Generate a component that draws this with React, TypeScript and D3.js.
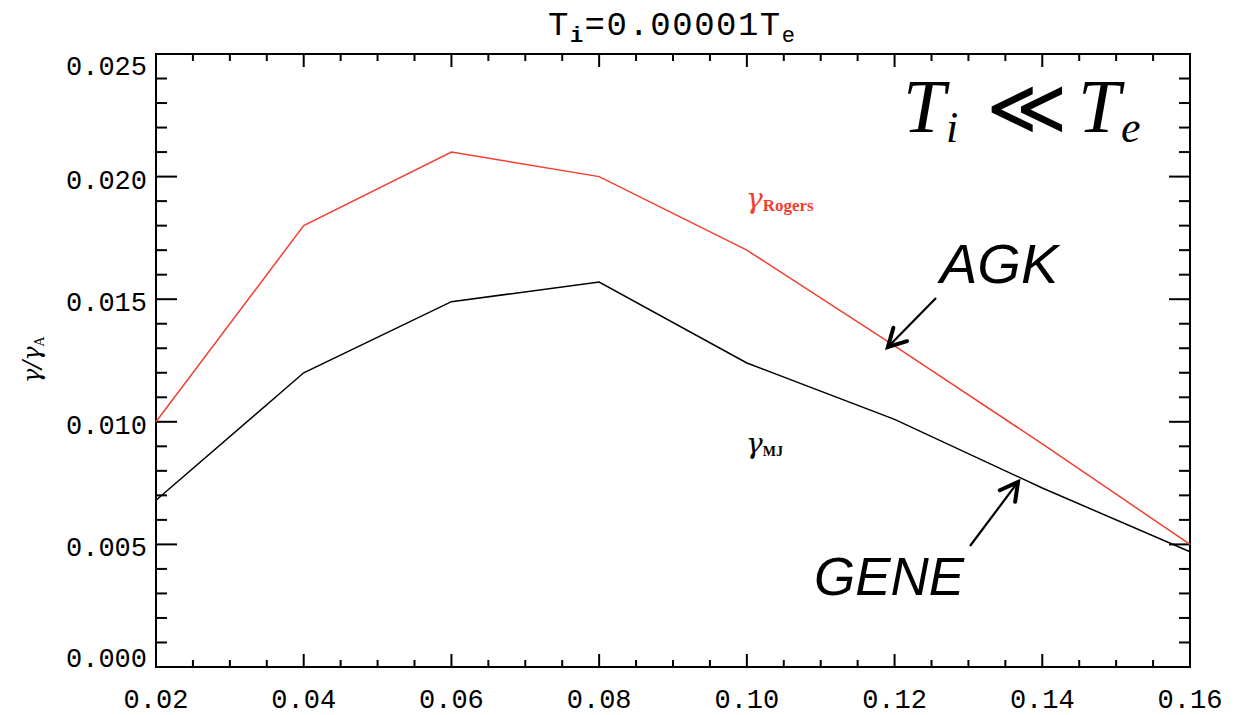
import React from "react";
import * as d3 from "d3";

// Wavenumber grid and growth rates (normalised)
const kValues = [0.02, 0.04, 0.06, 0.08, 0.1, 0.12, 0.14, 0.16];
const gammaRogers = [0.01, 0.018, 0.021, 0.02, 0.017, 0.0131, 0.0091, 0.005];
const gammaMJ = [0.0068, 0.012, 0.0149, 0.0157, 0.0124, 0.0101, 0.0073, 0.0047];

const xTicks = [0.02, 0.04, 0.06, 0.08, 0.1, 0.12, 0.14, 0.16];
const xTickLabels = ["0.02", "0.04", "0.06", "0.08", "0.10", "0.12", "0.14", "0.16"];
const yTicks = [0, 0.005, 0.01, 0.015, 0.02, 0.025];
const yTickLabels = ["0.000", "0.005", "0.010", "0.015", "0.020", "0.025"];

const W = 1245;
const H = 715;
const L = 156, R = 1190, T = 54, B = 667;
const RED = "#f0402f";
const MONO = "'Liberation Mono', 'DejaVu Sans Mono', monospace";

export default function App() {
  const x = d3.scaleLinear().domain([0.02, 0.16]).range([L, R]);
  const y = d3.scaleLinear().domain([0, 0.025]).range([B, T]);

  const line = d3
    .line<number>()
    .x((_, i) => x(kValues[i]))
    .y((d) => y(d));

  const xMinor = d3.range(0.02, 0.16 + 1e-9, 0.005).filter(
    (v) => !xTicks.some((t) => Math.abs(t - v) < 1e-9)
  );
  const yMinor = d3.range(0, 0.025 + 1e-9, 0.001).filter(
    (v) => !yTicks.some((t) => Math.abs(t - v) < 1e-9)
  );

  const arrow = (x1: number, y1: number, x2: number, y2: number) => {
    const a = Math.atan2(y2 - y1, x2 - x1);
    const len = 20;
    const spread = 0.5;
    const p1 = [x2 - len * Math.cos(a - spread), y2 - len * Math.sin(a - spread)];
    const p2 = [x2 - len * Math.cos(a + spread), y2 - len * Math.sin(a + spread)];
    return (
      <g>
        <line x1={x1} y1={y1} x2={x2} y2={y2} stroke="#000" strokeWidth={2.2} />
        <path
          d={`M${p1[0]},${p1[1]}L${x2},${y2}L${p2[0]},${p2[1]}`}
          fill="none"
          stroke="#000"
          strokeWidth={4}
          strokeLinecap="round"
          strokeLinejoin="miter"
        />
      </g>
    );
  };

  return (
    <svg
      width={W}
      height={H}
      style={{ position: "absolute", left: 0, top: 0, background: "#fff" }}
    >
      {/* Title */}
      <text x={548} y={35} fontFamily={MONO} fontSize={34} letterSpacing={1.5} fill="#000">
        T
        <tspan fontSize={22} dy={7} fontWeight="bold">i</tspan>
        <tspan dy={-7}>=0.00001T</tspan>
        <tspan fontSize={22} dy={7}>e</tspan>
      </text>

      {/* Frame */}
      <rect x={L} y={T} width={R - L} height={B - T} fill="none" stroke="#000" strokeWidth={2} />

      {/* X ticks bottom & top */}
      {xTicks.map((v) => (
        <g key={"xt" + v}>
          <line x1={x(v)} x2={x(v)} y1={B} y2={B - 13} stroke="#000" strokeWidth={2} />
          <line x1={x(v)} x2={x(v)} y1={T} y2={T + 13} stroke="#000" strokeWidth={2} />
        </g>
      ))}
      {xMinor.map((v) => (
        <g key={"xm" + v}>
          <line x1={x(v)} x2={x(v)} y1={B} y2={B - 7} stroke="#000" strokeWidth={2} />
          <line x1={x(v)} x2={x(v)} y1={T} y2={T + 7} stroke="#000" strokeWidth={2} />
        </g>
      ))}
      {xTicks.map((v, i) => (
        <text
          key={"xl" + v}
          x={x(v)}
          y={708}
          textAnchor="middle"
          fontFamily={MONO}
          fontSize={27}
          fill="#000"
        >
          {xTickLabels[i]}
        </text>
      ))}

      {/* Y ticks left & right */}
      {yTicks.map((v) => (
        <g key={"yt" + v}>
          <line x1={L} x2={L + 21} y1={y(v)} y2={y(v)} stroke="#000" strokeWidth={2} />
          <line x1={R} x2={R - 21} y1={y(v)} y2={y(v)} stroke="#000" strokeWidth={2} />
        </g>
      ))}
      {yMinor.map((v) => (
        <g key={"ym" + v}>
          <line x1={L} x2={L + 11} y1={y(v)} y2={y(v)} stroke="#000" strokeWidth={2} />
          <line x1={R} x2={R - 11} y1={y(v)} y2={y(v)} stroke="#000" strokeWidth={2} />
        </g>
      ))}
      {yTicks.map((v, i) => {
        const off = i === 0 ? 0 : i === yTicks.length - 1 ? 21 : 12;
        return (
          <text
            key={"yl" + v}
            x={147}
            y={y(v) + off}
            textAnchor="end"
            fontFamily={MONO}
            fontSize={27}
            fill="#000"
          >
            {yTickLabels[i]}
          </text>
        );
      })}

      {/* Y axis title */}
      <text
        transform="translate(40,360) rotate(-90)"
        textAnchor="middle"
        fontFamily="'DejaVu Serif', serif"
        fontStyle="italic"
        fontSize={24}
        fill="#000"
      >
        γ/γ
        <tspan fontSize={13} dy={4} fontStyle="normal">A</tspan>
      </text>

      {/* Data lines */}
      <path d={line(gammaRogers) ?? ""} fill="none" stroke={RED} strokeWidth={1.5} />
      <path d={line(gammaMJ) ?? ""} fill="none" stroke="#000" strokeWidth={1.5} />

      {/* Series labels */}
      <text x={746} y={208} fontFamily="'DejaVu Serif', serif" fontStyle="italic" fontSize={28} fill={RED}>
        γ
        <tspan fontFamily="'Liberation Serif', serif" fontStyle="normal" fontWeight="bold" fontSize={17} dy={3}>Rogers</tspan>
      </text>
      <text x={746} y={453} fontFamily="'DejaVu Serif', serif" fontStyle="italic" fontSize={28} fill="#000">
        γ
        <tspan fontFamily="'Liberation Serif', serif" fontStyle="normal" fontWeight="bold" fontSize={14} dy={3}>MJ</tspan>
      </text>

      {/* Regime annotation */}
      <text x={903} y={132} fontFamily="'Liberation Serif', serif" fontStyle="italic" fontSize={76} fill="#000">
        T
      </text>
      <text x={946} y={142} fontFamily="'Liberation Serif', serif" fontStyle="italic" fontSize={44} fill="#000">
        i
      </text>
      <text x={986} y={134} fontFamily="'DejaVu Sans', sans-serif" fontWeight={200} fontSize={78} fill="#000">
        ≪
      </text>
      <text x={1078} y={132} fontFamily="'Liberation Serif', serif" fontStyle="italic" fontSize={76} fill="#000">
        T
      </text>
      <text x={1121} y={142} fontFamily="'Liberation Serif', serif" fontStyle="italic" fontSize={44} fill="#000">
        e
      </text>

      {/* Code labels with arrows */}
      <text x={940} y={283} fontFamily="'Liberation Sans', Arial, sans-serif" fontStyle="italic" fontSize={56} fill="#000">
        AGK
      </text>
      {arrow(936, 298, x(0.1191), y(0.01305))}
      <text x={814} y={595} fontFamily="'Liberation Sans', Arial, sans-serif" fontStyle="italic" fontSize={53} fill="#000">
        GENE
      </text>
      {arrow(970, 546, 1018, 482)}
    </svg>
  );
}
